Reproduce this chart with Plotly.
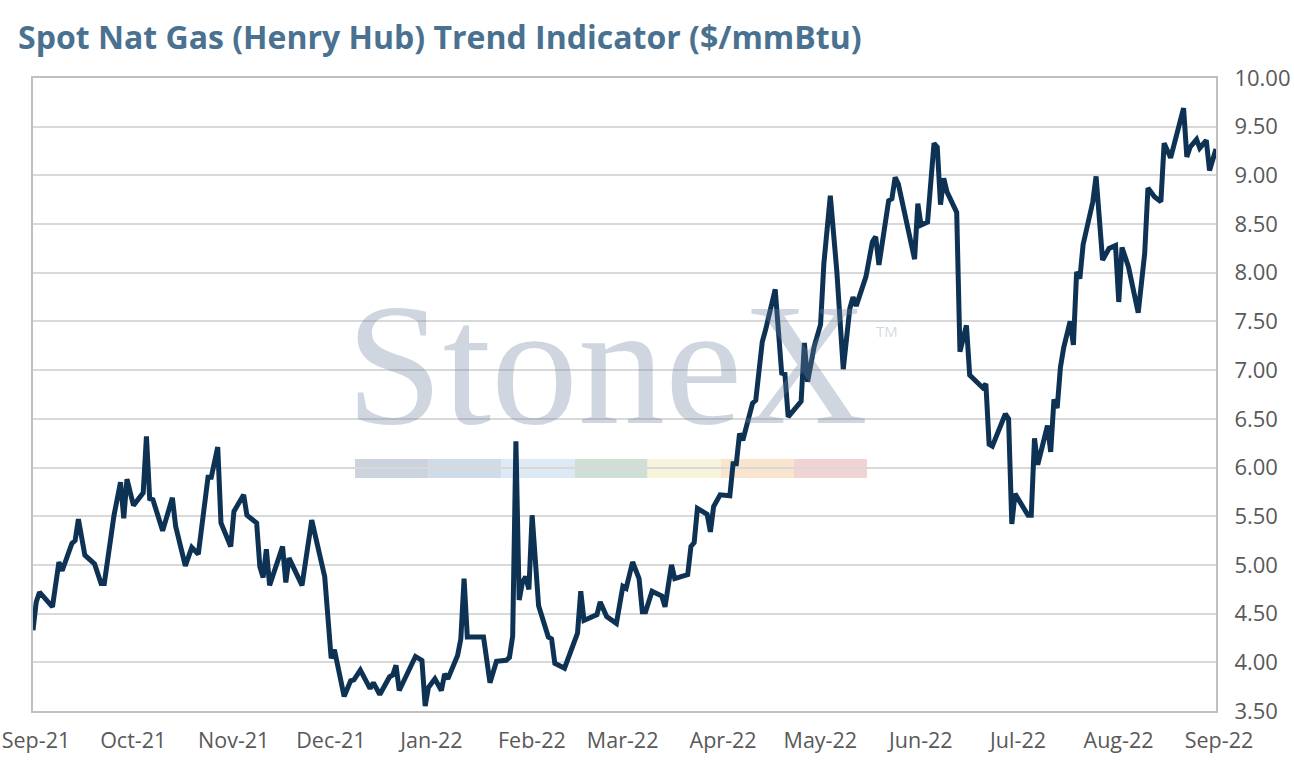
import plotly.graph_objects as go

# ---- data ----
dates = [
    "2021-09-01", "2021-09-02", "2021-09-03", "2021-09-07", "2021-09-09", "2021-09-10",
    "2021-09-13", "2021-09-14", "2021-09-15", "2021-09-17", "2021-09-20", "2021-09-22",
    "2021-09-23", "2021-09-26", "2021-09-28", "2021-09-29", "2021-09-30", "2021-10-02",
    "2021-10-05", "2021-10-06", "2021-10-07", "2021-10-08", "2021-10-11", "2021-10-14",
    "2021-10-15", "2021-10-18", "2021-10-20", "2021-10-22", "2021-10-25", "2021-10-26",
    "2021-10-28", "2021-10-29", "2021-11-01", "2021-11-02", "2021-11-05", "2021-11-06",
    "2021-11-09", "2021-11-10", "2021-11-11", "2021-11-12", "2021-11-13", "2021-11-17",
    "2021-11-18", "2021-11-19", "2021-11-23", "2021-11-26", "2021-11-30", "2021-12-02",
    "2021-12-03", "2021-12-06", "2021-12-08", "2021-12-09", "2021-12-11", "2021-12-14",
    "2021-12-15", "2021-12-17", "2021-12-20", "2021-12-21", "2021-12-22", "2021-12-23",
    "2021-12-28", "2021-12-30", "2021-12-31", "2022-01-01", "2022-01-03", "2022-01-05",
    "2022-01-06", "2022-01-07", "2022-01-10", "2022-01-11", "2022-01-12", "2022-01-13",
    "2022-01-18", "2022-01-20", "2022-01-22", "2022-01-25", "2022-01-26", "2022-01-27",
    "2022-01-28", "2022-01-29", "2022-01-30", "2022-01-31", "2022-02-01", "2022-02-02",
    "2022-02-04", "2022-02-07", "2022-02-08", "2022-02-09", "2022-02-12", "2022-02-16",
    "2022-02-17", "2022-02-18", "2022-02-22", "2022-02-23", "2022-02-25", "2022-02-28",
    "2022-03-02", "2022-03-03", "2022-03-05", "2022-03-07", "2022-03-08", "2022-03-09",
    "2022-03-11", "2022-03-14", "2022-03-15", "2022-03-17", "2022-03-18", "2022-03-22",
    "2022-03-23", "2022-03-24", "2022-03-25", "2022-03-28", "2022-03-29", "2022-03-30",
    "2022-04-01", "2022-04-04", "2022-04-05", "2022-04-06", "2022-04-07", "2022-04-08",
    "2022-04-11", "2022-04-12", "2022-04-14", "2022-04-15", "2022-04-18", "2022-04-20",
    "2022-04-21", "2022-04-22", "2022-04-26", "2022-04-27", "2022-04-28", "2022-04-30",
    "2022-05-02", "2022-05-03", "2022-05-05", "2022-05-07", "2022-05-09", "2022-05-11",
    "2022-05-12", "2022-05-13", "2022-05-16", "2022-05-18", "2022-05-19", "2022-05-20",
    "2022-05-23", "2022-05-24", "2022-05-25", "2022-05-26", "2022-05-31", "2022-06-01",
    "2022-06-02", "2022-06-04", "2022-06-06", "2022-06-07", "2022-06-08", "2022-06-09",
    "2022-06-10", "2022-06-13", "2022-06-14", "2022-06-16", "2022-06-17", "2022-06-21",
    "2022-06-22", "2022-06-23", "2022-06-24", "2022-06-28", "2022-06-29", "2022-06-30",
    "2022-07-01", "2022-07-05", "2022-07-06", "2022-07-07", "2022-07-08", "2022-07-11",
    "2022-07-12", "2022-07-13", "2022-07-14", "2022-07-15", "2022-07-16", "2022-07-18",
    "2022-07-19", "2022-07-20", "2022-07-21", "2022-07-22", "2022-07-25", "2022-07-26",
    "2022-07-28", "2022-07-30", "2022-08-01", "2022-08-02", "2022-08-03", "2022-08-05",
    "2022-08-08", "2022-08-10", "2022-08-11", "2022-08-13", "2022-08-15", "2022-08-16",
    "2022-08-18", "2022-08-22", "2022-08-23", "2022-08-24", "2022-08-26", "2022-08-27",
    "2022-08-29", "2022-08-30", "2022-09-01",
]

prices = [
    4.33, 4.62, 4.72, 4.57, 5.03, 4.94,
    5.22, 5.25, 5.47, 5.10, 5.01, 4.81,
    4.81, 5.51, 5.85, 5.48, 5.88, 5.61,
    5.74, 6.32, 5.68, 5.67, 5.35, 5.69,
    5.40, 4.99, 5.18, 5.11, 5.90, 5.90,
    6.21, 5.43, 5.19, 5.55, 5.72, 5.51,
    5.43, 4.98, 4.87, 5.16, 4.79, 5.19,
    4.82, 5.07, 4.79, 5.46, 4.88, 4.04,
    4.13, 3.65, 3.81, 3.82, 3.92, 3.73,
    3.79, 3.67, 3.85, 3.87, 3.97, 3.71,
    4.06, 4.02, 3.55, 3.74, 3.83, 3.71,
    3.88, 3.83, 4.07, 4.24, 4.86, 4.26,
    4.26, 3.79, 4.01, 4.02, 4.05, 4.27,
    6.27, 4.64, 4.82, 4.88, 4.75, 5.51,
    4.58, 4.26, 4.24, 3.99, 3.94, 4.30,
    4.73, 4.43, 4.49, 4.62, 4.47, 4.40,
    4.78, 4.76, 5.03, 4.86, 4.52, 4.52,
    4.73, 4.68, 4.57, 5.00, 4.86, 4.90,
    5.19, 5.23, 5.58, 5.52, 5.34, 5.60,
    5.72, 5.71, 6.04, 6.04, 6.35, 6.28,
    6.66, 6.69, 7.29, 7.41, 7.83, 6.97,
    6.96, 6.52, 6.68, 7.28, 6.88, 7.24,
    7.47, 8.09, 8.79, 8.02, 7.01, 7.63,
    7.75, 7.66, 7.96, 8.32, 8.37, 8.08,
    8.74, 8.76, 8.98, 8.91, 8.14, 8.71,
    8.49, 8.52, 9.33, 9.29, 8.70, 8.97,
    8.83, 8.62, 7.19, 7.46, 6.95, 6.82,
    6.86, 6.24, 6.22, 6.55, 6.50, 5.42,
    5.73, 5.51, 5.51, 6.30, 6.03, 6.43,
    6.16, 6.70, 6.61, 7.03, 7.23, 7.50,
    7.26, 8.01, 7.94, 8.29, 8.73, 8.99,
    8.13, 8.25, 8.28, 7.70, 8.26, 8.06,
    7.59, 8.20, 8.87, 8.78, 8.73, 9.33,
    9.18, 9.69, 9.19, 9.29, 9.37, 9.28,
    9.36, 9.05, 9.27,
]

x_range = ["2021-09-01", "2022-09-01"]
y_range = [3.5, 10.0]
title_text = "Spot Nat Gas (Henry Hub) Trend Indicator ($/mmBtu)"
band_colors = ["#cbd3dc", "#cfdbe8", "#dde9f3", "#d0dfd5", "#f8f4dc", "#f9e5cd", "#f2d3d4"]

# ---- figure ----
fig = go.Figure()
fig.add_trace(go.Scatter(
    x=dates, y=prices, mode="lines",
    line=dict(color="#0d3254", width=5),
    hoverinfo="x+y", showlegend=False,
))

shapes = []
x0, x1 = 0.2722, 0.705
w = (x1 - x0) / len(band_colors)
for i, c in enumerate(band_colors):
    shapes.append(dict(
        type="rect", xref="x domain", yref="y domain",
        x0=x0 + i * w, x1=x0 + (i + 1) * w, y0=0.368, y1=0.398,
        fillcolor=c, line=dict(width=0), layer="below",
    ))

wm_color = "rgba(110,132,160,0.33)"
fig.update_layout(
    width=1294, height=772,
    margin=dict(l=33, r=78, t=78, b=61, autoexpand=False),
    paper_bgcolor="white", plot_bgcolor="rgba(0,0,0,0)",
    font=dict(family="Open Sans, sans-serif", color="#595959", size=22),
    title=dict(
        text=title_text, x=0.014, xanchor="left", yref="container", y=0.951, yanchor="middle",
        font=dict(family="Open Sans, sans-serif", size=32, color="#4a7190", weight="bold"),
    ),
    shapes=shapes,
    annotations=[
        dict(text="StoneX", xref="x domain", yref="y domain", x=0.4852, y=0.392,
             xanchor="center", yanchor="bottom", showarrow=False,
             font=dict(family="Liberation Serif, serif", size=174, color=wm_color)),
        dict(text="TM", xref="x domain", yref="y domain", x=0.711, y=0.6,
             xanchor="left", yanchor="middle", showarrow=False,
             font=dict(family="Open Sans, sans-serif", size=15, color=wm_color)),
    ],
)

fig.update_xaxes(
    type="date", range=x_range, dtick="M1", tick0="2021-09-01", tickformat="%b-%y",
    showgrid=False, showline=True, linecolor="#c0c0c0", linewidth=2, mirror=True,
    ticks="", ticklabelstandoff=9, ticklabelshift=3, automargin=False,
    ticklabeloverflow="allow",
    tickfont=dict(family="Open Sans, sans-serif", size=21.5, color="#595959"),
)
fig.update_yaxes(
    range=y_range, dtick=0.5, tick0=3.5, tickformat=".2f", side="right",
    showgrid=True, gridcolor="#d9d9d9", gridwidth=2,
    showline=True, linecolor="#c0c0c0", linewidth=2, mirror=True,
    ticks="", ticklabelstandoff=12, automargin=False, zeroline=False,
    ticklabeloverflow="allow",
    tickfont=dict(family="Open Sans, sans-serif", size=22, color="#595959"),
)

fig.write_html(
    "out.html",
    config={"displayModeBar": False},
    post_script="document.body.style.margin='0';document.body.style.overflow='hidden';",
)
